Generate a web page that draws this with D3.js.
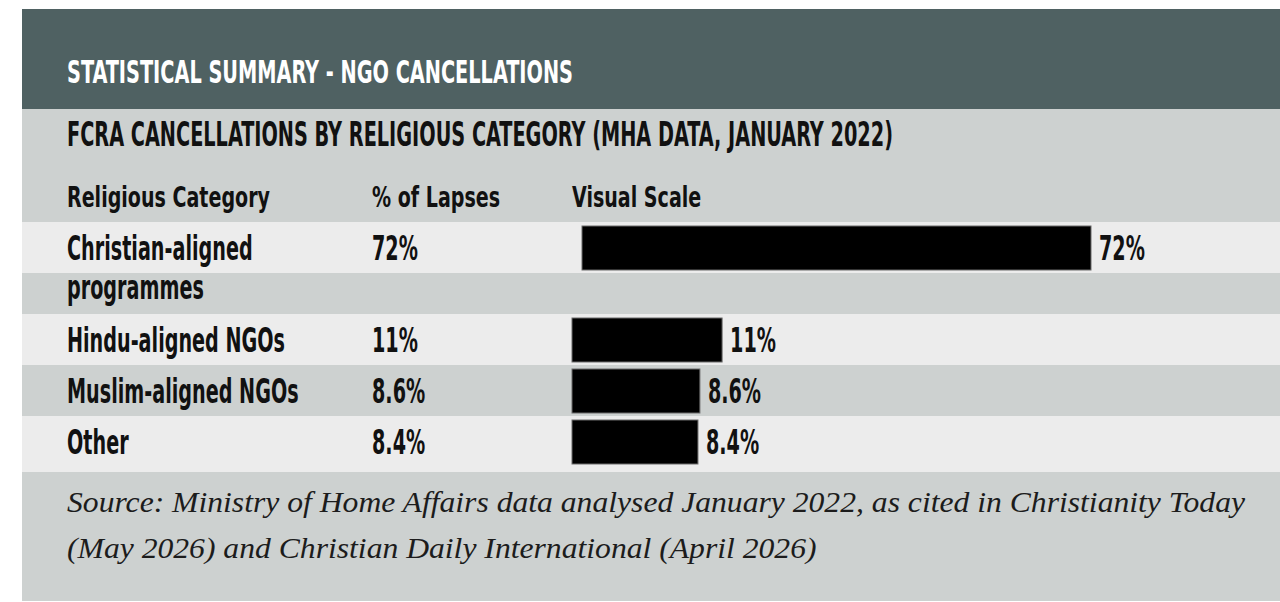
<!DOCTYPE html>
<html>
  <head>
    <meta charset="UTF-8">
    <script src="https://d3js.org/d3.v7.min.js"></script>
    <title>NGO cancellations</title>
    <style>
      body { margin: 0; background: #fff; }
      svg { display: block; }
    </style>
  </head>
  <body>
    <svg class="chart"></svg>
    <script type="text/javascript">

     var title = "STATISTICAL SUMMARY - NGO CANCELLATIONS";
     var subtitle = "FCRA CANCELLATIONS BY RELIGIOUS CATEGORY (MHA DATA, JANUARY 2022)";
     var columns = ["Religious Category", "% of Lapses", "Visual Scale"];
     var categories = ["Christian-aligned programmes", "Hindu-aligned NGOs", "Muslim-aligned NGOs", "Other"];
     var lapses = [72, 11, 8.6, 8.4];
     var sourceLines = [
         "Source: Ministry of Home Affairs data analysed January 2022, as cited in Christianity Today",
         "(May 2026) and Christian Daily International (April 2026)"
     ];

     var width = 1280,
         height = 602,
         left = 22,
         textX = 67,
         valueX = 372,
         scaleX = 572,
         labelMax = 290;

     var condensed = "'Liberation Sans Narrow', 'DejaVu Sans Condensed', 'Liberation Sans', sans-serif";
     var serif = "'Liberation Serif', 'Times New Roman', serif";
     var dark = "#4f6162", gray = "#cdd1d0", light = "#ececec", ink = "#111";

     var chart = d3.select(".chart")
                   .attr("width", width)
                   .attr("height", height);

     // squeeze a group of texts by the factor that makes one reference text hit its width
     function fit(sel, factor) {
         sel.each(function() {
             var w = this.getComputedTextLength();
             d3.select(this).attr("textLength", w * factor).attr("lengthAdjust", "spacingAndGlyphs");
         });
     }
     function measure(str, size, family) {
         var t = chart.append("text").attr("font-size", size).attr("font-family", family)
                      .attr("font-weight", "bold").text(str);
         var w = t.node().getComputedTextLength();
         t.remove();
         return w;
     }

     var rowSize = 33;
     var rowFactor = 218 / measure("Hindu-aligned NGOs", rowSize, condensed);

     // wrap labels to the first column
     var labelLines = categories.map(function(c) {
         var words = c.split(" "), lines = [], cur = "";
         words.forEach(function(w) {
             var test = cur ? cur + " " + w : w;
             if (cur && measure(test, rowSize, condensed) * rowFactor > labelMax) {
                 lines.push(cur); cur = w;
             } else cur = test;
         });
         lines.push(cur);
         return lines;
     });

     var lineH = 51, contH = 41, tableTop = 222;
     var rows = [], rowY = tableTop, stripes = [], s = 0;
     categories.forEach(function(c, i) {
         var n = labelLines[i].length;
         rows.push({name: c, value: lapses[i], lines: labelLines[i], y: rowY});
         stripes.push({y: rowY, h: lineH, odd: s++ % 2});
         for (var k = 1; k < n; k++) stripes.push({y: rowY + lineH + contH * (k - 1), h: contH, odd: s++ % 2});
         rowY += lineH + contH * (n - 1);
     });
     stripes[stripes.length - 1].h += 5;

     var x = d3.scalePow().exponent(0.65)
               .domain([0, d3.max(lapses)])
               .range([0, 509]);

     // panel
     chart.append("rect").attr("x", left).attr("y", 9).attr("width", width - left).attr("height", 592).attr("fill", gray);
     chart.append("rect").attr("x", left).attr("y", 9).attr("width", width - left).attr("height", 100).attr("fill", dark);

     chart.append("g").selectAll("rect")
          .data(stripes.filter(function(d) { return !d.odd; }))
          .enter().append("rect")
          .attr("x", left).attr("width", width - left)
          .attr("y", function(d) { return d.y; })
          .attr("height", function(d) { return d.h; })
          .attr("fill", light);

     var t1 = chart.append("text").attr("x", textX).attr("y", 83)
                   .attr("font-family", condensed).attr("font-weight", "bold").attr("font-size", 31.5)
                   .attr("fill", "#fff").text(title);
     fit(t1, 506 / t1.node().getComputedTextLength());

     var t2 = chart.append("text").attr("x", textX).attr("y", 146)
                   .attr("font-family", condensed).attr("font-weight", "bold").attr("font-size", 33)
                   .attr("fill", ink).text(subtitle);
     fit(t2, 826 / t2.node().getComputedTextLength());

     var heads = chart.append("g").selectAll("text")
                      .data(columns)
                      .enter().append("text")
                      .attr("x", function(d, i) { return [textX, valueX, scaleX][i]; })
                      .attr("y", 207)
                      .attr("font-family", condensed).attr("font-weight", "bold").attr("font-size", 29)
                      .attr("fill", ink).text(function(d) { return d; });
     fit(heads, 203 / heads.node().getComputedTextLength());

     var row = chart.append("g").selectAll("g")
                    .data(rows)
                    .enter().append("g")
                    .attr("transform", function(d) { return "translate(0," + d.y + ")"; })
                    .attr("font-family", condensed).attr("font-weight", "bold").attr("font-size", rowSize)
                    .attr("fill", ink);

     row.selectAll("text.label")
        .data(function(d) { return d.lines; })
        .enter().append("text")
        .attr("class", "label")
        .attr("x", textX)
        .attr("y", function(d, i) { return 38 + i * 39; })
        .text(function(d) { return d; });

     row.append("text")
        .attr("class", "value")
        .attr("x", valueX).attr("y", 38)
        .text(function(d) { return d.value + "%"; });

     // wrapped rows sit with a small cell indent
     function barX(d) { return scaleX + (d.lines.length > 1 ? 10 : 0); }

     row.append("rect")
        .attr("x", barX)
        .attr("y", 4)
        .attr("width", function(d) { return x(d.value); })
        .attr("height", 44)
        .attr("fill", "#000")
        .attr("stroke", "#6b6b6b")
        .attr("stroke-width", 1);

     row.append("text")
        .attr("class", "barlabel")
        .attr("x", function(d) { return barX(d) + x(d.value) + 8; })
        .attr("y", 38)
        .text(function(d) { return d.value + "%"; });

     fit(row.selectAll("text"), rowFactor);

     var src = chart.append("g").selectAll("text")
                    .data(sourceLines)
                    .enter().append("text")
                    .attr("x", textX)
                    .attr("y", function(d, i) { return 512 + i * 46; })
                    .attr("font-family", serif).attr("font-style", "italic").attr("font-size", 30)
                    .attr("fill", "#1c1c1c")
                    .text(function(d) { return d; });
     fit(src, 1178 / src.node().getComputedTextLength());

    </script>
  </body>
</html>
